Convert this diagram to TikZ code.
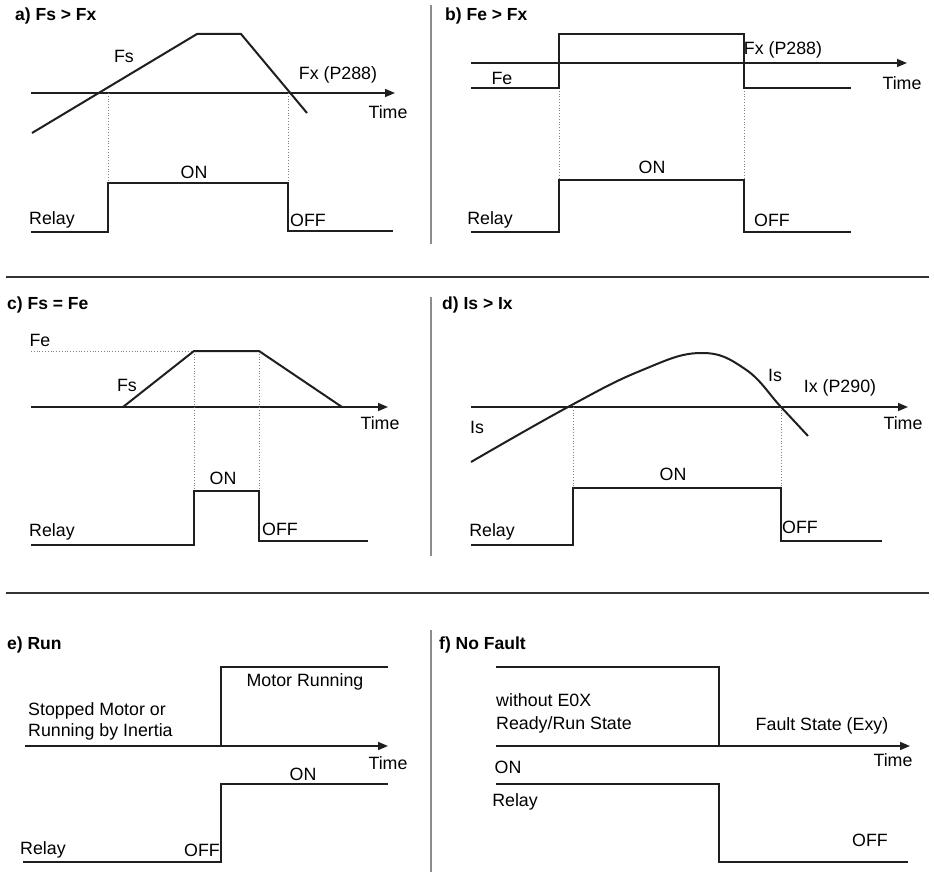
\documentclass[tikz,border=0pt]{standalone}
\usepackage{fontspec}
\setmainfont{Liberation Sans}
\usetikzlibrary{arrows.meta}
\begin{document}
\begin{tikzpicture}[x=1pt,y=-1pt,
  lbl/.style={inner sep=0pt,font=\fontsize{17.8}{21}\selectfont},
  ttl/.style={inner sep=0pt,anchor=west,font=\fontsize{17.5}{20}\selectfont\bfseries},
  sig/.style={line width=2pt,draw=black!88,line join=miter},
  axis/.style={line width=1.6pt,draw=black!88,-{Triangle[length=10pt,width=8pt]}},
  guide/.style={line width=0.8pt,draw=black!50,dotted},
  hsep/.style={line width=1.3pt,draw=black!80},
  vsep/.style={line width=2pt,draw=black!45}]
\useasboundingbox (0,0) rectangle (934,872);
% separators
\draw[hsep] (6,277) -- (929,277);
\draw[hsep] (6,593) -- (929,593);
\draw[vsep] (431,5) -- (431,244);
\draw[vsep] (431,297) -- (431,556);
\draw[vsep] (431,630) -- (431,872);

% ---------- a) ----------
\node[ttl] (ta) at (15,16) {a) Fs > Fx};
\draw[axis] (31,93) -- (395,93);
\draw[guide] (108,93) -- (108,183);
\draw[guide] (288,93) -- (288,183);
\draw[sig] (32,133) -- (197,34) -- (241,34) -- (307,113);
\draw[sig] (31,232) -- (108,232) -- (108,183) -- (288,183) -- (288,231) -- (393,231);
\node[lbl] (afs) at (124,56) {Fs};
\node[lbl] (afx) at (338,75) {Fx (P288)};
\node[lbl] (atime) at (388,112) {Time};
\node[lbl] (aon) at (194,172) {ON};
\node[lbl] (arelay) at (52,220) {Relay};
\node[lbl] (aoff) at (308,220) {OFF};

% ---------- b) ----------
\node[ttl] (tb) at (445,16) {b) Fe > Fx};
\draw[axis] (471,63) -- (907,63);
\draw[guide] (559,88) -- (559,180);
\draw[guide] (744,88) -- (744,180);
\draw[sig] (471,88) -- (559,88) -- (559,34) -- (744,34) -- (744,88) -- (851,88);
\draw[sig] (471,232) -- (559,232) -- (559,180) -- (744,180) -- (744,232) -- (851,232);
\node[lbl] (bfe) at (502,78) {Fe};
\node[lbl] (bfx) at (783,50) {Fx (P288)};
\node[lbl] (btime) at (902,83) {Time};
\node[lbl] (bon) at (652,167) {ON};
\node[lbl] (brelay) at (490,220) {Relay};
\node[lbl] (boff) at (772,220) {OFF};

% ---------- c) ----------
\node[ttl] (tc) at (7,305) {c) Fs = Fe};
\draw[guide] (31,351) -- (194,351);
\draw[axis] (31,407) -- (388,407);
\draw[guide] (194,351) -- (194,491);
\draw[guide] (259,351) -- (259,491);
\draw[sig] (123,407) -- (194,351) -- (259,351) -- (342,407);
\draw[sig] (31,545) -- (194,545) -- (194,491) -- (259,491) -- (259,541) -- (368,541);
\node[lbl] (cfe) at (40,340) {Fe};
\node[lbl] (cfs) at (127,385) {Fs};
\node[lbl] (ctime) at (380,423) {Time};
\node[lbl] (con) at (223,478) {ON};
\node[lbl] (crelay) at (52,532) {Relay};
\node[lbl] (coff) at (280,529) {OFF};

% ---------- d) ----------
\node[ttl] (td) at (442,305) {d) Is > Ix};
\draw[axis] (471,407) -- (908,407);
\draw[guide] (573,407) -- (573,488);
\draw[guide] (781,407) -- (781,488);
\draw[sig] plot[smooth,tension=0.7] coordinates {(471,462) (568,407) (640,371) (700,353) (745,369) (781,407) (808,436)};
\draw[sig] (471,545) -- (573,545) -- (573,488) -- (781,488) -- (781,541) -- (882,541);
\node[lbl] (dis1) at (775,375) {Is};
\node[lbl] (dix) at (840,388) {Ix (P290)};
\node[lbl] (dis2) at (477,427) {Is};
\node[lbl] (dtime) at (903,423) {Time};
\node[lbl] (don) at (673,474) {ON};
\node[lbl] (drelay) at (492,532) {Relay};
\node[lbl] (doff) at (800,527) {OFF};

% ---------- e) ----------
\node[ttl] (te) at (7,645) {e) Run};
\draw[axis] (25,746) -- (388,746);
\draw[sig] (221,746) -- (221,667) -- (388,667);
\draw[sig] (23,862) -- (221,862) -- (221,784) -- (388,784);
\node[lbl] (emr) at (305,682) {Motor Running};
\node[lbl,anchor=west] (est1) at (28,711) {Stopped Motor or};
\node[lbl,anchor=west] (est2) at (28,732) {Running by Inertia};
\node[lbl] (etime) at (388,763) {Time};
\node[lbl] (eon) at (303,774) {ON};
\node[lbl] (erelay) at (43,850) {Relay};
\node[lbl] (eoff) at (202,850) {OFF};

% ---------- f) ----------
\node[ttl] (tf) at (439,645) {f) No Fault};
\draw[axis] (496,746) -- (910,746);
\draw[sig] (496,667) -- (719,667) -- (719,746);
\draw[sig] (496,784) -- (719,784) -- (719,862) -- (908,862);
\node[lbl,anchor=west] (fwo) at (496,700) {without E0X};
\node[lbl,anchor=west] (frr) at (496,725) {Ready/Run State};
\node[lbl] (ffs) at (822,726) {Fault State (Exy)};
\node[lbl] (ftime) at (893,760) {Time};
\node[lbl] (fon) at (508,767) {ON};
\node[lbl] (frelay) at (515,802) {Relay};
\node[lbl] (foff) at (870,840) {OFF};
\end{tikzpicture}
\end{document}
